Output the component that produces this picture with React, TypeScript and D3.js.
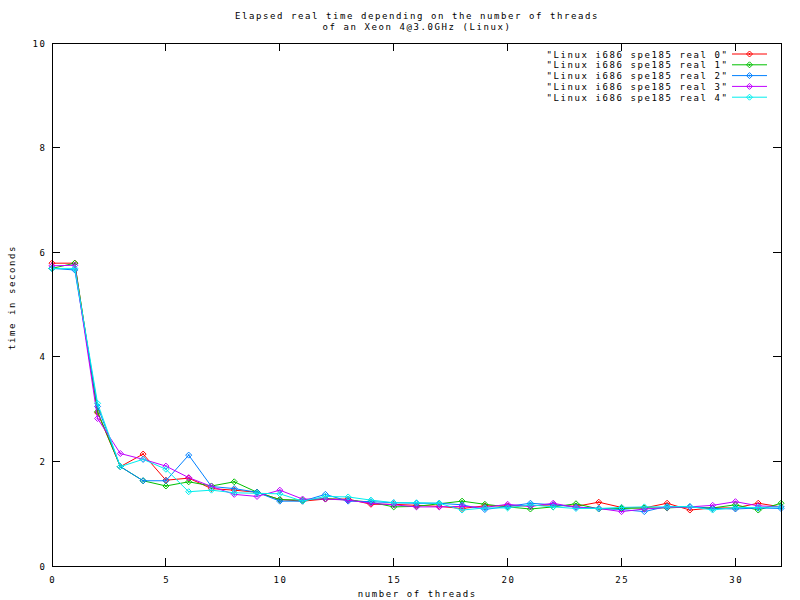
import React from "react";
import * as d3 from "d3";

const threads = d3.range(0, 33);
const seriesNames = [
  '"Linux i686 spe185 real 0"',
  '"Linux i686 spe185 real 1"',
  '"Linux i686 spe185 real 2"',
  '"Linux i686 spe185 real 3"',
  '"Linux i686 spe185 real 4"',
];
const seriesColors = ["#ff0000", "#00c000", "#0080ff", "#c000ff", "#00eeee"];

const real0 = [5.79, 5.79, 2.93, 1.9, 2.14, 1.64, 1.68, 1.48, 1.45, 1.41, 1.27, 1.24, 1.28, 1.28, 1.18, 1.18, 1.16, 1.14, 1.1, 1.15, 1.15, 1.15, 1.17, 1.14, 1.22, 1.12, 1.11, 1.2, 1.07, 1.11, 1.11, 1.2, 1.13];
const real1 = [5.69, 5.79, 2.95, 1.9, 1.63, 1.53, 1.61, 1.53, 1.61, 1.41, 1.27, 1.26, 1.29, 1.26, 1.22, 1.13, 1.14, 1.19, 1.24, 1.18, 1.13, 1.09, 1.13, 1.19, 1.09, 1.1, 1.11, 1.11, 1.13, 1.11, 1.17, 1.07, 1.2];
const real2 = [5.69, 5.66, 3.05, 1.9, 1.63, 1.63, 2.12, 1.52, 1.48, 1.41, 1.24, 1.24, 1.37, 1.24, 1.23, 1.21, 1.2, 1.2, 1.17, 1.08, 1.14, 1.2, 1.17, 1.13, 1.1, 1.08, 1.04, 1.14, 1.13, 1.1, 1.09, 1.11, 1.1];
const real3 = [5.74, 5.75, 2.82, 2.15, 2.04, 1.91, 1.69, 1.52, 1.37, 1.33, 1.45, 1.28, 1.28, 1.26, 1.2, 1.17, 1.13, 1.13, 1.14, 1.12, 1.18, 1.14, 1.2, 1.12, 1.1, 1.04, 1.09, 1.12, 1.13, 1.16, 1.23, 1.15, 1.13];
const real4 = [5.69, 5.69, 3.11, 1.9, 2.04, 1.85, 1.42, 1.45, 1.4, 1.39, 1.38, 1.24, 1.33, 1.32, 1.26, 1.21, 1.21, 1.2, 1.07, 1.11, 1.11, 1.17, 1.13, 1.1, 1.1, 1.12, 1.13, 1.13, 1.14, 1.07, 1.12, 1.12, 1.13];
const seriesValues = [real0, real1, real2, real3, real4];

const xTicks = [0, 5, 10, 15, 20, 25, 30];
const yTicks = [0, 2, 4, 6, 8, 10];
const titleLines = [
  "Elapsed real time depending on the number of threads",
  "of an Xeon 4@3.0GHz (Linux)",
];
const xLabel = "number of threads";
const yLabel = "time in seconds";

const W = 800;
const H = 600;
const left = 52;
const right = 781;
const top = 43;
const bottom = 566;
const font = "'DejaVu Sans Mono', 'Liberation Mono', monospace";
const fs = 9;
const ls = 1.58;

function Marker({ x, y, color }: { x: number; y: number; color: string }) {
  const r = 3;
  return (
    <g stroke={color} fill="none" strokeWidth={1}>
      <path d={`M${x - r},${y}L${x},${y - r}L${x + r},${y}L${x},${y + r}Z`} />
      <path d={`M${x - 1},${y}L${x + 1},${y}M${x},${y - 1}L${x},${y + 1}`} />
    </g>
  );
}

export default function App() {
  const x = d3.scaleLinear().domain([0, 32]).range([left, right]);
  const y = d3.scaleLinear().domain([0, 10]).range([bottom, top]);
  const line = d3
    .line<number>()
    .x((_, i) => x(threads[i]))
    .y((d) => y(d));
  const tick = 8;
  const legendX1 = 732;
  const legendX2 = 767;
  const legendTextX = 728.5;
  const legendY0 = 54;
  const legendDy = 10.8;

  return (
    <svg
      width={W}
      height={H}
      style={{ position: "absolute", left: 0, top: 0, background: "#fff" }}
      fontFamily={font}
      fontSize={fs}
      letterSpacing={ls}
    >
      <rect x={0} y={0} width={W} height={H} fill="#fff" />
      {titleLines.map((t, i) => (
        <text key={i} x={417} y={19 + i * 10.5} textAnchor="middle" fill="#000">
          {t}
        </text>
      ))}
      <g stroke="#000" strokeWidth={1} shapeRendering="crispEdges">
        {xTicks.map((t) => (
          <g key={"x" + t}>
            <line x1={x(t)} x2={x(t)} y1={bottom} y2={bottom - tick} />
            <line x1={x(t)} x2={x(t)} y1={top} y2={top + tick} />
          </g>
        ))}
        {yTicks.map((t) => (
          <g key={"y" + t}>
            <line x1={left} x2={left + tick} y1={y(t)} y2={y(t)} />
            <line x1={right} x2={right - tick} y1={y(t)} y2={y(t)} />
          </g>
        ))}
      </g>
      {xTicks.map((t) => (
        <text key={"xl" + t} x={x(t) + 0.8} y={583} textAnchor="middle" fill="#000">
          {t}
        </text>
      ))}
      {yTicks.map((t) => (
        <text key={"yl" + t} x={46.5} y={y(t) + 3.5} textAnchor="end" fill="#000">
          {t}
        </text>
      ))}
      <text x={(left + right) / 2 + 0.8} y={597} textAnchor="middle" fill="#000">
        {xLabel}
      </text>
      <text
        transform={`translate(15,${(top + bottom) / 2 - 7}) rotate(-90)`}
        textAnchor="middle"
        fill="#000"
      >
        {yLabel}
      </text>
      {seriesValues.map((vals, si) => (
        <g key={"s" + si}>
          <path d={line(vals) || ""} fill="none" stroke={seriesColors[si]} strokeWidth={1} />
          {vals.map((v, i) => (
            <Marker key={i} x={x(threads[i])} y={y(v)} color={seriesColors[si]} />
          ))}
        </g>
      ))}
      {seriesNames.map((n, i) => {
        const ly = legendY0 + i * legendDy;
        return (
          <g key={"lg" + i}>
            <text x={legendTextX} y={ly + 3.5} textAnchor="end" fill="#000">
              {n}
            </text>
            <line x1={legendX1} x2={legendX2} y1={ly} y2={ly} stroke={seriesColors[i]} strokeWidth={1} />
            <Marker x={(legendX1 + legendX2) / 2} y={ly} color={seriesColors[i]} />
          </g>
        );
      })}
      <rect
        x={left}
        y={top}
        width={right - left}
        height={bottom - top}
        fill="none"
        stroke="#000"
        strokeWidth={1}
        shapeRendering="crispEdges"
      />
    </svg>
  );
}
